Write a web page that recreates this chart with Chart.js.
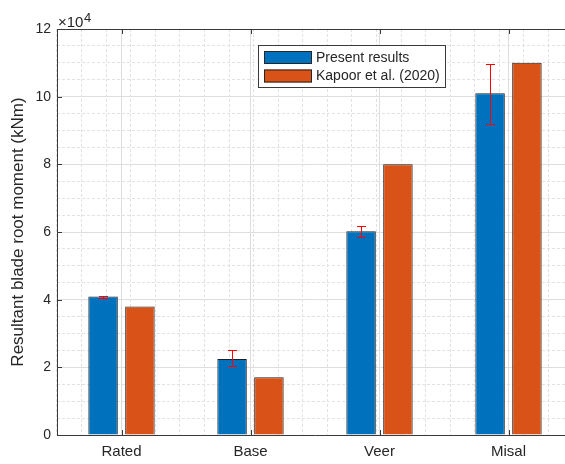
<!DOCTYPE html>
<html><head><meta charset="utf-8">
<script src="https://cdn.jsdelivr.net/npm/chart.js@4.4.1/dist/chart.umd.min.js"></script>
<style>
html,body{margin:0;padding:0;background:#fff;overflow:hidden;}
#wrap{width:565px;height:464px;overflow:hidden;position:relative;background:#fff;}
#c{position:absolute;left:0;top:0;}
</style></head><body>
<div id="wrap"><canvas id="c" width="600" height="464"></canvas></div>
<script>
// ---- data ----
const categories = ['Rated', 'Base', 'Veer', 'Misal'];
const presentResults = [40900, 22500, 60200, 101000];
const kapoor2020 = [38000, 17100, 80000, 110000];
const errLower = [400, 2200, 1700, 9000];
const errUpper = [300, 2600, 1600, 8800];
const seriesLabels = ['Present results', 'Kapoor et al. (2020)'];
const yTickLabels = ['0', '2', '4', '6', '8', '10', '12'];
const yExponentLabel = '×10';
const yExponent = '4';
const yTitle = 'Resultant blade root moment (kNm)';

const FONT = "'Liberation Sans', Arial, Helvetica, sans-serif";
const TXT = '#262626';
const AXIS = '#3a3a3a';
const MAJOR = '#dedede';
const MINOR = '#e2e2e2';

const matlabPlugin = {
  id: 'matlabPlugin',
  afterDraw(chart) {
    const ctx = chart.ctx;
    const ca = chart.chartArea;
    const xs = chart.scales.x, ys = chart.scales.y;
    ctx.save();
    // box top edge
    ctx.strokeStyle = AXIS;
    ctx.lineWidth = 1;
    ctx.beginPath();
    ctx.moveTo(Math.round(ca.left) + 0.5, Math.round(ca.top) + 0.5);
    ctx.lineTo(Math.round(ca.right) + 0.5, Math.round(ca.top) + 0.5);
    ctx.stroke();
    // inward ticks
    ctx.beginPath();
    ys.ticks.forEach((t) => {
      const y = Math.round(ys.getPixelForValue(t.value)) + 0.5;
      ctx.moveTo(ca.left, y); ctx.lineTo(ca.left + 5, y);
    });
    xs.ticks.forEach((t, i) => {
      const x = Math.round(xs.getPixelForTick(i)) + 0.5;
      ctx.moveTo(x, ca.bottom); ctx.lineTo(x, ca.bottom - 5);
      ctx.moveTo(x, ca.top); ctx.lineTo(x, ca.top + 5);
    });
    ctx.stroke();
    // y-axis title, centred on the plot area
    ctx.save();
    ctx.translate(18.5, (ca.top + ca.bottom) / 2);
    ctx.rotate(-Math.PI / 2);
    ctx.fillStyle = TXT;
    ctx.font = '17px ' + FONT;
    ctx.textAlign = 'center';
    ctx.textBaseline = 'middle';
    ctx.fillText(yTitle, 0, 0);
    ctx.restore();
    // exponent label
    ctx.fillStyle = TXT;
    ctx.textBaseline = 'alphabetic';
    ctx.textAlign = 'left';
    ctx.font = '15px ' + FONT;
    ctx.fillText(yExponentLabel, ca.left + 1, ca.top - 2.5);
    const w = ctx.measureText(yExponentLabel).width;
    ctx.font = '13px ' + FONT;
    ctx.fillText(yExponent, ca.left + 1 + w + 0.5, ca.top - 7.5);
    // legend
    const lx = 258, ly = 45, lw = 187, lh = 42;
    ctx.fillStyle = '#ffffff';
    ctx.fillRect(lx, ly, lw, lh);
    ctx.strokeStyle = AXIS;
    ctx.strokeRect(lx + 0.5, ly + 0.5, lw, lh);
    chart.data.datasets.forEach((ds, i) => {
      const sy = 51 + i * 18.5;
      ctx.fillStyle = ds.backgroundColor;
      ctx.fillRect(264, sy, 48, 13);
      ctx.strokeStyle = '#262626';
      ctx.strokeRect(264.5, sy + 0.5, 47, 12);
      ctx.fillStyle = TXT;
      ctx.font = '14px ' + FONT;
      ctx.textBaseline = 'middle';
      ctx.fillText(ds.label, 316, sy + 7);
    });
    ctx.restore();
  },
  afterDatasetsDraw(chart) {
    const ctx = chart.ctx;
    const ys = chart.scales.y;
    const meta = chart.getDatasetMeta(0);
    ctx.save();
    ctx.strokeStyle = '#ff0000';
    ctx.lineWidth = 1;
    meta.data.forEach((bar, i) => {
      const v = presentResults[i];
      const x = Math.round(bar.x) + 0.5;
      const yTop = Math.round(ys.getPixelForValue(v + errUpper[i])) + 0.5;
      const yBot = Math.round(ys.getPixelForValue(v - errLower[i])) + 0.5;
      ctx.beginPath();
      ctx.moveTo(x, yTop); ctx.lineTo(x, yBot);
      ctx.moveTo(x - 4.5, yTop); ctx.lineTo(x + 4.5, yTop);
      ctx.moveTo(x - 4.5, yBot); ctx.lineTo(x + 4.5, yBot);
      ctx.stroke();
    });
    ctx.restore();
  }
};

new Chart(document.getElementById('c'), {
  type: 'bar',
  data: {
    labels: categories,
    datasets: [
      { label: seriesLabels[0], data: presentResults, backgroundColor: '#0072BD', borderColor: '#1f1f1f', borderWidth: 1, xAxisID: 'x', yAxisID: 'y' },
      { label: seriesLabels[1], data: kapoor2020, backgroundColor: '#D95319', borderColor: '#1f1f1f', borderWidth: 1, xAxisID: 'x', yAxisID: 'y' }
    ]
  },
  options: {
    responsive: false,
    animation: false,
    devicePixelRatio: 1,
    categoryPercentage: 0.5714,
    barPercentage: 0.8,
    layout: { padding: { top: 29, right: 27, bottom: 0, left: 0 } },
    plugins: { legend: { display: false }, tooltip: { enabled: false } },
    scales: {
      xMinor: {
        type: 'linear', position: 'bottom', min: 0.5, max: 4.5,
        ticks: { display: false, stepSize: 0.2 },
        grid: { color: MINOR, drawTicks: false },
        border: { display: false, dash: [3, 2] },
        afterFit: (s) => { s.height = 0; }
      },
      yMinor: {
        type: 'linear', position: 'left', min: 0, max: 120000,
        ticks: { display: false, stepSize: 5000 },
        grid: { color: MINOR, drawTicks: false },
        border: { display: false, dash: [3, 2] },
        afterFit: (s) => { s.width = 0; }
      },
      x: {
        type: 'category', position: 'bottom', offset: true,
        grid: { offset: false, color: MAJOR, drawTicks: false },
        border: { display: true, color: AXIS, width: 1 },
        ticks: { color: TXT, font: { family: FONT, size: 15 }, padding: 8, maxRotation: 0 },
        afterFit: (s) => { s.height = 29; }
      },
      y: {
        type: 'linear', position: 'left', min: 0, max: 120000,
        ticks: {
          stepSize: 20000, color: TXT, font: { family: FONT, size: 14 }, padding: 6,
          callback: (v, i) => yTickLabels[i]
        },
        grid: { color: MAJOR, drawTicks: false },
        border: { display: true, color: AXIS, width: 1 },
        afterFit: (s) => { s.width = 57; }
      }
    }
  },
  plugins: [matlabPlugin]
});
</script>
</body></html>
